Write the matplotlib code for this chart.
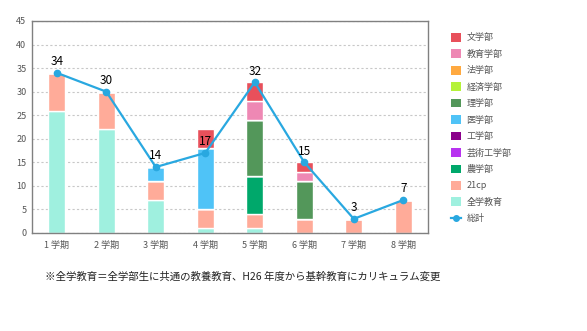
import matplotlib
matplotlib.use("Agg")
import matplotlib.pyplot as plt
import numpy as np
from matplotlib.patches import Patch
from matplotlib.lines import Line2D

plt.rcParams['font.family'] = ['Noto Sans CJK JP', 'DejaVu Sans']

terms = ["1 学期", "2 学期", "3 学期", "4 学期", "5 学期", "6 学期", "7 学期", "8 学期"]

# stacked series, bottom to top
zengaku = [26, 22, 7, 1, 1, 0, 0, 0]
cp21 = [8, 8, 4, 4, 3, 3, 3, 7]
nou = [0, 0, 0, 0, 8, 0, 0, 0]
geikou = [0, 0, 0, 0, 0, 0, 0, 0]
kou = [0, 0, 0, 0, 0, 0, 0, 0]
igaku = [0, 0, 3, 13, 0, 0, 0, 0]
rigaku = [0, 0, 0, 0, 12, 8, 0, 0]
keizai = [0, 0, 0, 0, 0, 0, 0, 0]
hou = [0, 0, 0, 0, 0, 0, 0, 0]
kyouiku = [0, 0, 0, 0, 4, 2, 0, 0]
bun = [0, 0, 0, 4, 4, 2, 0, 0]
total = [34, 30, 14, 17, 32, 15, 3, 7]

series = [
    ("全学教育", zengaku, "#9FF0DF"),
    ("21cp", cp21, "#FFAB99"),
    ("農学部", nou, "#00A86B"),
    ("芸術工学部", geikou, "#B833F0"),
    ("工学部", kou, "#8B008B"),
    ("医学部", igaku, "#4FC3F7"),
    ("理学部", rigaku, "#53975A"),
    ("経済学部", keizai, "#B5F23A"),
    ("法学部", hou, "#FFA940"),
    ("教育学部", kyouiku, "#EE88B4"),
    ("文学部", bun, "#E8505B"),
]
line_color = "#29A8E0"

fig = plt.figure(figsize=(5.87, 3.31), dpi=100)
ax = fig.add_axes([32 / 587, 1 - 233 / 331, 396 / 587, 212 / 331])

x = np.arange(len(terms))
bottom = np.zeros(len(terms))
for name, vals, col in series:
    v = np.array(vals, dtype=float)
    ax.bar(x, v, 0.35, bottom=bottom, color=col, edgecolor="white",
           linewidth=1.0, zorder=2)
    bottom += v

ax.plot(x, total, color=line_color, lw=1.6, marker="o", ms=4.5, zorder=4)
for xi, t in zip(x, total):
    ax.text(xi, t + 1.0, str(t), ha="center", va="bottom", fontsize=8.5,
            color="black", zorder=5)

ax.set_xlim(-0.5, 7.5)
ax.set_ylim(0, 45)
ax.set_yticks(range(0, 46, 5))
ax.set_xticks(x)
ax.set_xticklabels(terms)
ax.tick_params(axis="both", length=0, labelsize=6.5, colors="#555555")
ax.tick_params(axis="x", pad=6)
ax.tick_params(axis="y", pad=4)
ax.yaxis.grid(True, linestyle=(0, (2, 2)), color="#C8C8C8", lw=0.8, zorder=0)
ax.set_axisbelow(True)
for s in ax.spines.values():
    s.set_color("#808080")
    s.set_linewidth(1.0)

handles = [Patch(facecolor=col, edgecolor="none") for _, _, col in reversed(series)]
labels = [name for name, _, _ in reversed(series)]
handles.append(Line2D([0], [0], color=line_color, lw=1.6, marker="o", ms=4))
labels.append("総計")
fig.legend(handles, labels, loc="upper left", bbox_to_anchor=(451 / 587, 1 - 33 / 331),
           frameon=False, fontsize=6.5, handlelength=1.1, handleheight=1.1,
           labelspacing=0.78, handletextpad=0.6, labelcolor="#555555",
           borderaxespad=0, borderpad=0)

fig.text(45 / 587, 1 - 277 / 331,
         "※全学教育＝全学部生に共通の教養教育、H26 年度から基幹教育にカリキュラム変更",
         fontsize=7.5, color="#222222", va="center", ha="left")

fig.savefig("out.png", dpi=100)
